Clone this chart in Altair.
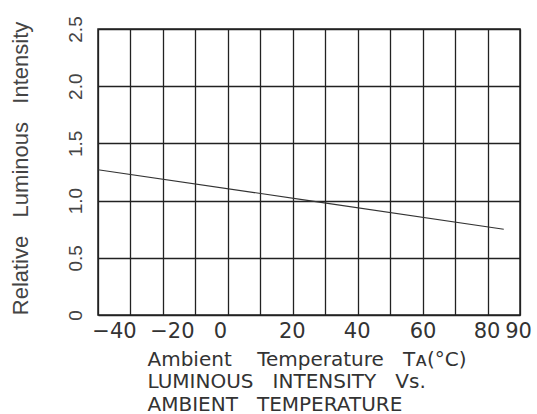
import altair as alt
import pandas as pd

# Data
temperature = [-40, 25, 85]
rel_intensity = [1.27, 1.0, 0.75]

x_grid_values = [-40, -30, -20, -10, 0, 10, 20, 30, 40, 50, 60, 70, 80, 90]
x_label_values = [-40, -20, 0, 20, 40, 60, 80, 90]
y_values = [0, 0.5, 1.0, 1.5, 2.0, 2.5]

NB = "\u00a0"
x_title_lines = [
    f"Ambient{NB*4}Temperature{NB*3}Tᴀ(°C)",
    f"LUMINOUS{NB*3}INTENSITY{NB*3}Vs.",
    f"AMBIENT{NB*3}TEMPERATURE",
]
y_title_text = f"Relative{NB*3}Luminous{NB*3}Intensity"

df = pd.DataFrame({"t": temperature, "v": rel_intensity})

label_list = ",".join(str(v) for v in x_label_values)

x_axis = alt.Axis(
    values=x_grid_values,
    labelExpr=f"indexof([{label_list}], datum.value) >= 0 ? datum.label : ''",
    grid=True,
    gridColor="#222222",
    gridWidth=1.3,
    gridOpacity=1,
    ticks=False,
    domain=False,
    labelFont="DejaVu Sans",
    labelFontSize=21,
    labelColor="#333333",
    labelPadding=5,
    labelOverlap=False,
    labelFlush=False,
    labelBaseline="top",
    labelOffset={
        "condition": [
            {"test": "datum.value == -40", "value": 16},
            {"test": "datum.value == -20", "value": 9},
            {"test": "datum.value == 0", "value": -8},
            {"test": "datum.value == 20", "value": -1},
            {"test": "datum.value == 40", "value": -1},
            {"test": "datum.value == 80", "value": -1},
            {"test": "datum.value == 90", "value": -2},
        ],
        "value": 0,
    },
    title=x_title_lines,
    titleFont="DejaVu Sans",
    titleFontSize=20,
    titleFontWeight="normal",
    titleColor="#333333",
    titleAlign="left",
    titleAngle=0,
    titleBaseline="alphabetic",
    titleX=49,
    titleY=50,
    titleLineHeight=22.5,
)

y_axis = alt.Axis(
    values=y_values,
    labelExpr="datum.value == 0 ? '0' : format(datum.value, '.1f')",
    grid=True,
    gridColor="#222222",
    gridWidth=1.3,
    gridOpacity=1,
    ticks=False,
    domain=False,
    labelFont="Liberation Sans",
    labelFontSize=19,
    labelColor="#444444",
    labelAngle=270,
    labelAlign="center",
    labelBaseline="bottom",
    labelPadding=13,
    labelOverlap=False,
    labelFlush=False,
    title=y_title_text,
    titleFont="Liberation Sans",
    titleFontSize=22,
    titleFontWeight="normal",
    titleColor="#444444",
    titleAngle=270,
    titleAlign="center",
    titleBaseline="middle",
    titleX=-78,
    titleY=139,
)

chart = (
    alt.Chart(df)
    .mark_line(color="#333333", strokeWidth=1.1)
    .encode(
        x=alt.X("t:Q", scale=alt.Scale(domain=[-40, 90], nice=False, zero=False), axis=x_axis),
        y=alt.Y("v:Q", scale=alt.Scale(domain=[0, 2.5], nice=False), axis=y_axis),
    )
    .properties(
        width=422,
        height=286,
        autosize=alt.AutoSizeParams(type="none"),
        padding={"left": 98, "top": 29, "right": 17, "bottom": 99},
        background="white",
    )
    .configure_view(stroke="#222222", strokeWidth=1.5)
)

chart.save("out.html", embed_options={"renderer": "svg", "actions": False})
